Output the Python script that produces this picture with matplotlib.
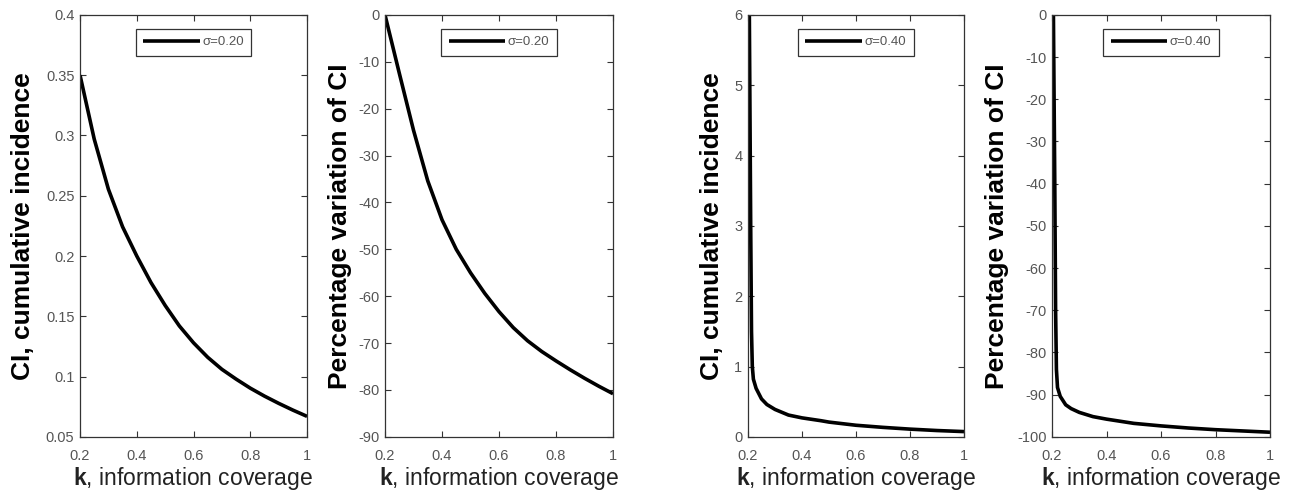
import matplotlib
matplotlib.use("Agg")
import matplotlib.pyplot as plt

plt.rcParams["font.family"] = ["Liberation Sans", "DejaVu Sans"]
plt.rcParams["mathtext.fontset"] = "custom"
plt.rcParams["mathtext.bf"] = "Liberation Sans:bold"
plt.rcParams["mathtext.rm"] = "Liberation Sans"

# ---- values ----
k_a = [0.20, 0.25, 0.30, 0.35, 0.40, 0.45, 0.50, 0.55, 0.60,
       0.65, 0.70, 0.75, 0.80, 0.85, 0.90, 0.95, 1.00]
ci_a = [0.350, 0.297, 0.2554, 0.2242, 0.200, 0.178, 0.159, 0.142, 0.128,
        0.116, 0.106, 0.0979, 0.0904, 0.0838, 0.0778, 0.0722, 0.067]
pv_a = [0.0, -12.4, -24.6, -35.4, -43.7, -50.0, -55.0, -59.4, -63.3,
        -66.7, -69.5, -71.8, -73.8, -75.7, -77.5, -79.2, -80.8]

k_b = [0.205, 0.210, 0.213, 0.216, 0.220, 0.230, 0.250, 0.270, 0.300,
       0.350, 0.400, 0.470, 0.500, 0.600, 0.700, 0.800, 0.900, 1.000]
ci_b = [6.0, 3.0, 1.5, 1.0, 0.82, 0.69, 0.54, 0.46, 0.39,
        0.31, 0.27, 0.23, 0.21, 0.165, 0.135, 0.110, 0.090, 0.075]
pv_b = [0.0, -40.0, -70.0, -84.0, -88.3, -90.4, -92.4, -93.3, -94.2,
        -95.2, -95.8, -96.5, -96.8, -97.4, -97.9, -98.3, -98.6, -98.9]

x_ticks = [0.2, 0.4, 0.6, 0.8, 1.0]
x_tick_labels = ["0.2", "0.4", "0.6", "0.8", "1"]

panels = [
    # (k, y, legend, ylabel, ylim, yticks, ytick labels)
    (k_a, ci_a, "σ=0.20", "CI, cumulative incidence", (0.05, 0.4),
     [0.05, 0.1, 0.15, 0.2, 0.25, 0.3, 0.35, 0.4],
     ["0.05", "0.1", "0.15", "0.2", "0.25", "0.3", "0.35", "0.4"]),
    (k_a, pv_a, "σ=0.20", "Percentage variation of CI", (-90, 0),
     list(range(-90, 1, 10)), [str(v) for v in range(-90, 1, 10)]),
    (k_b, ci_b, "σ=0.40", "CI, cumulative incidence", (0, 6),
     list(range(0, 7)), [str(v) for v in range(0, 7)]),
    (k_b, pv_b, "σ=0.40", "Percentage variation of CI", (-100, 0),
     list(range(-100, 1, 10)), [str(v) for v in range(-100, 1, 10)]),
]

# axes boxes in figure fractions (left, width) and label offsets
boxes = [(0.0618, 0.1753), (0.2973, 0.1761), (0.5776, 0.1668), (0.8124, 0.1683)]
ylab_x = [-0.251, -0.197, -0.167, -0.252]
bottom, height = 0.121, 0.849

fig = plt.figure(figsize=(12.95, 4.97), dpi=100)

for (k, y, leg, ylab, ylim, yt, ytl), (left, width), yx in zip(panels, boxes, ylab_x):
    ax = fig.add_axes([left, bottom, width, height])
    ax.plot(k, y, color="black", lw=2.6, label=leg, solid_capstyle="butt")
    ax.set_xlim(0.2, 1.0)
    ax.set_ylim(*ylim)
    ax.set_xticks(x_ticks)
    ax.set_xticklabels(x_tick_labels)
    ax.set_yticks(yt)
    ax.set_yticklabels(ytl)
    ax.tick_params(direction="in", top=True, right=True, length=4,
                   width=0.8, labelsize=10.5, labelcolor="#555555",
                   color="#333333")
    ax.tick_params(axis="x", pad=9)
    ax.tick_params(axis="y", pad=4)
    for sp in ax.spines.values():
        sp.set_color("#333333")
        sp.set_linewidth(0.9)
    ax.set_ylabel(ylab, fontsize=19, fontweight="bold", va="center")
    ax.yaxis.set_label_coords(yx, 0.5)
    ax.set_xlabel(r"$\mathbf{k}$, information coverage", fontsize=16.5,
                  va="center", color="#222222")
    ax.xaxis.set_label_coords(0.5, -0.099)
    lg = ax.legend(loc="upper center", bbox_to_anchor=(0.5, 0.967),
                   fontsize=9.5, handlelength=4.3, handletextpad=0.2,
                   borderpad=0.55, borderaxespad=0.0, fancybox=False,
                   framealpha=1)
    lg.get_frame().set_edgecolor("#333333")
    lg.get_frame().set_linewidth(0.9)
    for t in lg.get_texts():
        t.set_color("#555555")

fig.savefig("out.png", dpi=100)
